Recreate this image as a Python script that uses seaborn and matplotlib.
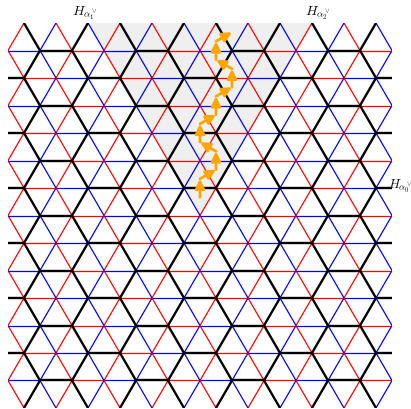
import matplotlib
matplotlib.use("Agg")
import matplotlib.pyplot as plt
from matplotlib.collections import LineCollection
import seaborn as sns

# lattice extent, in triangle sides (columns) and rows
n_cols = 12
n_rows = 14

# vertex types {0,1,2}; edge colour by the pair of types it joins
edge_colors = {(1, 2): "black", (0, 1): "blue", (0, 2): "red"}
edge_widths = {"black": 1.7, "blue": 0.9, "red": 0.9}

# shaded dominant chamber (u = column, v = row)
chamber_u = [6.0, 2.5, 9.5]
chamber_v = [7.0, 0.0, 0.0]

# alcove walk, alcove centroids from the fundamental alcove upward
walk_u = [6.0, 6.0, 6.5, 6.5, 6.0, 6.0, 6.5, 6.5, 7.0, 7.0, 6.5, 6.5, 7.0]
walk_v = [6.333, 5.667, 5.333, 4.667, 4.333, 3.667, 3.333, 2.667,
          2.333, 1.667, 1.333, 0.667, 0.333]

wall_labels = [r"$H_{\alpha_1^\vee}$", r"$H_{\alpha_2^\vee}$", r"$H_{\alpha_0^\vee}$"]
label_u = [2.0, 9.28, 11.86]
label_v = [-0.29, -0.29, 5.93]
label_va = ["baseline", "baseline", "center"]
label_size = [10, 10, 9.5]


def vertex_type(X):
    return (2 * X) % 3


def main() -> None:
    sns.set_theme(style="white")
    plt.rcParams["mathtext.fontset"] = "cm"

    fig = plt.figure(figsize=(4.11, 4.09), dpi=100)
    ax = fig.add_axes([8 / 411, 1 / 409, 384 / 411, 385 / 409])
    ax.set_xlim(0, n_cols)
    ax.set_ylim(n_rows, 0)
    ax.axis("off")

    ax.fill(chamber_u, chamber_v, color="#efefef", lw=0, zorder=0)

    segs = {"black": [], "blue": [], "red": []}
    for k in range(n_rows + 1):
        start = -2 if k % 2 == 1 else -1
        for X in range(start, 2 * n_cols + 3, 2):
            t0 = vertex_type(X)
            nbrs = []
            if 1 <= k <= n_rows - 1:
                nbrs.append((X + 2, k))
            if k < n_rows:
                nbrs.append((X + 1, k + 1))
                nbrs.append((X - 1, k + 1))
            for X1, k1 in nbrs:
                pair = tuple(sorted((t0, vertex_type(X1))))
                c = edge_colors[pair]
                segs[c].append([(X / 2, k), (X1 / 2, k1)])

    for c, z in [("red", 1), ("blue", 1), ("black", 2)]:
        ax.add_collection(LineCollection(segs[c], colors=c, linewidths=edge_widths[c], zorder=z))

    for i in range(len(walk_u) - 1):
        ax.annotate(
            "",
            xy=(walk_u[i + 1], walk_v[i + 1]),
            xytext=(walk_u[i], walk_v[i]),
            arrowprops=dict(arrowstyle="-|>", color="orange", lw=2.0,
                            shrinkA=0, shrinkB=0, mutation_scale=14),
            zorder=3,
        )

    for txt, u, v, va, fs in zip(wall_labels, label_u, label_v, label_va, label_size):
        ax.text(u, v, txt, ha="left", va=va, fontsize=fs, color="#111111", clip_on=False)

    fig.savefig("out.png", dpi=100)
    plt.close(fig)


if __name__ == "__main__":
    main()
